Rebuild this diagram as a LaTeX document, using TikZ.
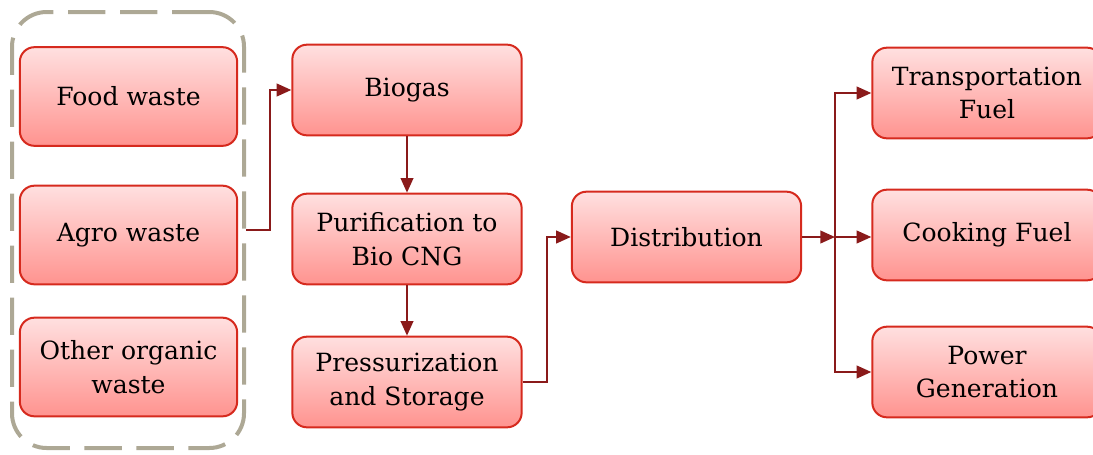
\documentclass[tikz,border=0pt]{standalone}
\usepackage{fontspec}
\setmainfont{DejaVu Serif}
\usetikzlibrary{arrows.meta}

\definecolor{boxline}{HTML}{D62A1E}
\definecolor{boxtop}{HTML}{FFE0E0}
\definecolor{boxbot}{HTML}{FF938F}
\definecolor{flow}{HTML}{8A1A1A}
\definecolor{framegray}{HTML}{ADA895}

\tikzset{
  stage/.style={draw=boxline, line width=1.5pt, rounded corners=11pt,
    top color=boxtop, bottom color=boxbot, align=center,
    minimum width=172pt, minimum height=68pt,
    font=\fontsize{18.8}{25}\selectfont},
  wastebox/.style={stage, minimum width=163pt, minimum height=74pt},
  wasteframe/.style={draw=framegray, line width=3pt, rounded corners=26pt,
    dash pattern=on 28pt off 11pt},
  flowline/.style={draw=flow, line width=1.5pt,
    -{Triangle[length=11pt,width=9.5pt]}}
}

\begin{document}
\begin{tikzpicture}[x=0.75pt,y=-0.75pt]
\useasboundingbox (0,0) rectangle (1093,454);

\node[wasteframe, minimum width=174pt, minimum height=327pt] (wastes) at (128,230) {};
\node[wastebox] (food) at (128.5,96.5) {Food waste};
\node[wastebox] (agro) at (128.5,235) {Agro waste};
\node[wastebox] (other) at (128.5,367) {Other organic\\waste};

\node[stage] (biogas) at (407,90) {Biogas};
\node[stage] (purif) at (407,239) {Purification to\\Bio CNG};
\node[stage] (press) at (407,382) {Pressurization\\and Storage};
\node[stage] (distrib) at (686.5,237) {Distribution};

\node[stage] (transp) at (987,93) {Transportation\\Fuel};
\node[stage] (cook) at (987,235) {Cooking Fuel};
\node[stage] (power) at (987,372) {Power\\Generation};

\coordinate (split) at (835,237);

\draw[flowline] (wastes.east) -- ++(24,0) |- (biogas.west);
\draw[flowline] (biogas) -- (purif);
\draw[flowline] (purif) -- (press);
\draw[flowline] (press.east) -- ++(24,0) |- (distrib.west);
\draw[flowline] (distrib.east) -- (split);
\draw[flowline] (split) |- (transp.west);
\draw[flowline] (split) -- (cook.west |- split);
\draw[flowline] (split) |- (power.west);
\end{tikzpicture}
\end{document}
